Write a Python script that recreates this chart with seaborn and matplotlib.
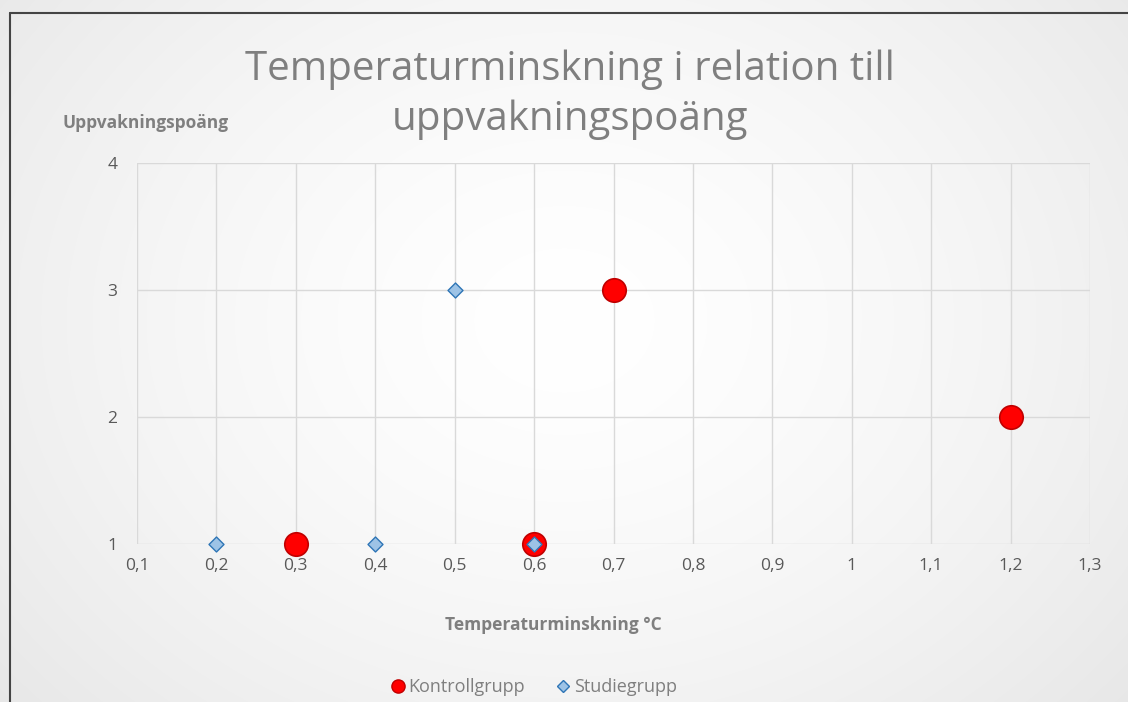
import numpy as np
import pandas as pd
import matplotlib
matplotlib.use("Agg")
import matplotlib.pyplot as plt
import seaborn as sns
from matplotlib.lines import Line2D

# ---- data ----
kontroll_x = [0.3, 0.6, 0.7, 1.2]
kontroll_y = [1, 1, 3, 2]
studie_x = [0.2, 0.4, 0.5, 0.6]
studie_y = [1, 1, 3, 1]
x_ticks = [0.1, 0.2, 0.3, 0.4, 0.5, 0.6, 0.7, 0.8, 0.9, 1.0, 1.1, 1.2, 1.3]
x_tick_labels = ["0,1", "0,2", "0,3", "0,4", "0,5", "0,6", "0,7", "0,8", "0,9", "1", "1,1", "1,2", "1,3"]
y_ticks = [1, 2, 3, 4]
y_tick_labels = ["1", "2", "3", "4"]
title = "Temperaturminskning i relation till\nuppvakningspoäng"
x_label = "Temperaturminskning °C"
y_label = "Uppvakningspoäng"
series_names = ["Kontrollgrupp", "Studiegrupp"]

df_k = pd.DataFrame({"x": kontroll_x, "y": kontroll_y, "grupp": series_names[0]})
df_s = pd.DataFrame({"x": studie_x, "y": studie_y, "grupp": series_names[1]})

sns.set_theme(style="white")
plt.rcParams["font.family"] = ["Open Sans", "DejaVu Sans"]

fig = plt.figure(figsize=(11.28, 7.02), dpi=100)

# background radial gradient
bg = fig.add_axes([0, 0, 1, 1], zorder=-10)
yy, xx = np.mgrid[0:702, 0:1128]
r = np.sqrt(((xx - 564) / 700.0) ** 2 + ((yy - 320) / 560.0) ** 2)
shade = 1.0 - 0.085 * np.clip(r, 0, 1.2) ** 1.5
bg.imshow(np.dstack([shade, shade, shade]), extent=[0, 1, 0, 1], aspect="auto", origin="upper")
bg.set_axis_off()

# frame (top and left visible)
fig.add_artist(Line2D([0.009, 1.2], [1 - 13 / 702, 1 - 13 / 702], color="#444444", lw=1.5, transform=fig.transFigure))
fig.add_artist(Line2D([0.009, 0.009], [1 - 13 / 702, -0.2], color="#444444", lw=1.5, transform=fig.transFigure))

ax = fig.add_axes([137 / 1128, 1 - 544 / 702, (1090 - 137) / 1128, (544 - 163) / 702])
ax.set_facecolor("none")

sns.scatterplot(data=df_k, x="x", y="y", ax=ax, marker="o", s=285, color="#ff0000",
                edgecolor="#c00000", linewidth=1.2, zorder=3, legend=False, clip_on=False)
sns.scatterplot(data=df_s, x="x", y="y", ax=ax, marker="D", s=58, color="#9dc3e6",
                edgecolor="#2e75b6", linewidth=1.0, zorder=4, legend=False, clip_on=False)

ax.set_xlim(0.1, 1.3)
ax.set_ylim(1, 4)
ax.set_xticks(x_ticks)
ax.set_xticklabels(x_tick_labels)
ax.set_yticks(y_ticks)
ax.set_yticklabels(y_tick_labels)
ax.grid(True, color="#d9d9d9", linewidth=1.0)
ax.set_axisbelow(True)
for sp in ax.spines.values():
    sp.set_visible(False)
ax.tick_params(axis="both", length=0, labelsize=12.5, labelcolor="#595959", pad=10)
ax.tick_params(axis="y", pad=14)
ax.set_xlabel("")
ax.set_ylabel("")

fig.text(0.505, 1 - 95 / 702, title, ha="center", va="center", fontsize=29,
         color="#7f7f7f", linespacing=1.3)
fig.text(63 / 1128, 1 - 123 / 702, y_label, ha="left", va="center", fontsize=12.5,
         fontweight="bold", color="#7f7f7f")
fig.text(553 / 1128, 1 - 625 / 702, x_label, ha="center", va="center", fontsize=12.5,
         fontweight="bold", color="#7f7f7f")

handles = [
    Line2D([], [], marker="o", linestyle="none", markersize=9.5, markerfacecolor="#ff0000",
           markeredgecolor="#c00000", label=series_names[0]),
    Line2D([], [], marker="D", linestyle="none", markersize=6.5, markerfacecolor="#9dc3e6",
           markeredgecolor="#2e75b6", label=series_names[1]),
]
fig.legend(handles=handles, loc="center", bbox_to_anchor=(533 / 1128, 1 - 687 / 702), ncol=2,
           frameon=False, fontsize=13, labelcolor="#7f7f7f", handletextpad=0.1,
           columnspacing=1.6, handlelength=1.0)

fig.savefig("out.png", dpi=100)
